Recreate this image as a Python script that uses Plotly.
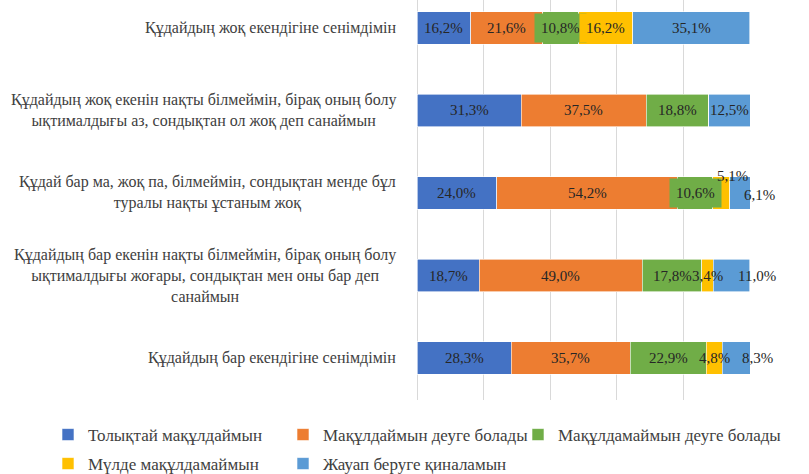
import plotly.graph_objects as go

categories = [
    "Құдайдың жоқ екендігіне сенімдімін",
    "Құдайдың жоқ екенін нақты білмеймін, бірақ оның болу<br>ықтималдығы аз, сондықтан ол жоқ деп санаймын",
    "Құдай бар ма, жоқ па, білмеймін, сондықтан менде бұл<br>туралы нақты ұстаным жоқ",
    "Құдайдың бар екенін нақты білмеймін, бірақ оның болу<br>ықтималдығы жоғары, сондықтан мен оны бар деп<br>санаймын",
    "Құдайдың бар екендігіне сенімдімін",
]
series_names = [
    "Толықтай мақұлдаймын",
    "Мақұлдаймын деуге болады",
    "Мақұлдамаймын деуге болады",
    "Мүлде мақұлдамаймын",
    "Жауап беруге қиналамын",
]
full_agree = [16.2, 31.3, 24.0, 18.7, 28.3]
agree = [21.6, 37.5, 54.2, 49.0, 35.7]
disagree = [10.8, 18.8, 10.6, 17.8, 22.9]
full_disagree = [16.2, 0.0, 5.1, 3.4, 4.8]
hard_to_answer = [35.1, 12.5, 6.1, 11.0, 8.3]
series_values = [full_agree, agree, disagree, full_disagree, hard_to_answer]

colors = ["#4472C4", "#ED7D31", "#70AD47", "#FFC000", "#5B9BD5"]
SERIF = "'Liberation Serif', 'DejaVu Serif', serif"
TXT = "#262626"

# label styling (manual adjustments as in the original): (row, series) -> (xshift, yshift)
label_shift = {(2, 3): (11, 17), (2, 4): (20, -2), (3, 4): (26, 0), (4, 4): (21, 0)}
label_filled = {(0, 2), (0, 3), (2, 2)}
# legend grid cell (column, row) for each series entry
legend_cell = [(0, 0), (1, 0), (2, 0), (0, 1), (1, 1)]

fig = go.Figure()
legend_layouts = {}
for si, (name, vals) in enumerate(zip(series_names, series_values)):
    lid = "legend" if si == 0 else f"legend{si + 1}"
    fig.add_trace(go.Bar(
        y=categories, x=vals, name=name, orientation="h",
        marker=dict(color=colors[si], line=dict(color="white", width=0.6)),
        width=0.39, showlegend=True, legend=lid,
        hoverinfo="x+name",
    ))
    col, row = legend_cell[si]
    legend_layouts[lid] = dict(
        orientation="h", xanchor="left", yanchor="middle",
        x=(48 + 235 * col - 417) / 333, y=[-0.0875, -0.16][row],
        font=dict(family=SERIF, size=17, color="#404040"),
        bgcolor="rgba(0,0,0,0)",
    )

annotations = []
for ri, cat in enumerate(categories):
    cum = 0.0
    for si, vals in enumerate(series_values):
        v = vals[ri]
        if v > 0:
            dx, dy = label_shift.get((ri, si), (0, 0))
            filled = (ri, si) in label_filled
            annotations.append(dict(
                x=cum + v / 2, y=cat, xref="x", yref="y",
                text=f"{v:.1f}%".replace(".", ","), showarrow=False,
                font=dict(family=SERIF, size=15, color=TXT),
                xshift=dx, yshift=dy,
                bgcolor=colors[si] if filled else "rgba(0,0,0,0)",
                borderpad=6 if filled else 1,
            ))
        cum += v
    annotations.append(dict(
        x=0, y=cat, xref="paper", yref="y", xanchor="right", yanchor="middle",
        xshift=-19, text=cat, showarrow=False, align="center",
        font=dict(family=SERIF, size=16, color="#404040"),
    ))

fig.update_layout(
    width=809, height=474,
    margin=dict(l=417, r=59, t=0, b=74, autoexpand=False),
    paper_bgcolor="white", plot_bgcolor="white",
    barmode="stack",
    xaxis=dict(range=[0, 100], dtick=20, showgrid=True, gridcolor="#d9d9d9",
               gridwidth=1, zeroline=True, zerolinecolor="#d9d9d9", zerolinewidth=1,
               showticklabels=False, showline=False),
    yaxis=dict(categoryorder="array", categoryarray=categories,
               range=[4.509, -0.339], showticklabels=False, showgrid=False,
               zeroline=False, showline=False),
    annotations=annotations,
    showlegend=True,
    **legend_layouts,
)

fig.write_html("out.html", config={"displayModeBar": False},
               post_script="document.body.style.margin='0';")
